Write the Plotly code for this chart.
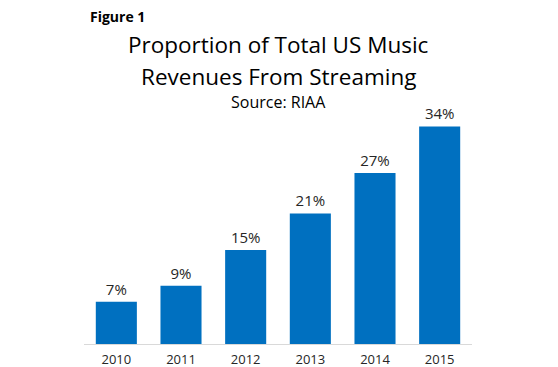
import plotly.graph_objects as go

years = ["2010", "2011", "2012", "2013", "2014", "2015"]
share = [6.6, 9.1, 14.7, 20.4, 26.7, 34.0]
labels = ["7%", "9%", "15%", "21%", "27%", "34%"]

FONT = "Open Sans"
W, H = 558, 367
top, bottom = 88, 23
plot_h = H - top - bottom

def py(p):
    return (H - bottom - p) / plot_h

fig = go.Figure(go.Bar(
    x=years, y=share, text=labels, textposition="outside",
    marker=dict(color="#0070C0", line=dict(width=0)),
    textfont=dict(family=FONT, size=15, color="#262626"),
    cliponaxis=False,
))

fig.update_layout(
    width=W, height=H,
    margin=dict(l=84, r=86, t=top, b=bottom, autoexpand=False),
    paper_bgcolor="white", plot_bgcolor="white",
    bargap=0.365,
    showlegend=False,
    xaxis=dict(showline=True, linecolor="#D9D9D9", linewidth=1, ticks="",
               range=[-0.5, 5.5], automargin=False, ticklabelstandoff=3,
               tickfont=dict(family=FONT, size=13, color="#262626"), showgrid=False),
    yaxis=dict(range=[0, 40], visible=False, showgrid=False, automargin=False),
    annotations=[
        dict(text="<b>Figure 1</b>", xref="paper", yref="paper", x=(88 - 84) / 388, y=py(16),
             xanchor="left", yanchor="middle", showarrow=False,
             font=dict(family=FONT, size=14, color="black")),
        dict(text="Proportion of Total US Music", xref="paper", yref="paper", x=0.5, y=py(44.5),
             xanchor="center", yanchor="middle", showarrow=False,
             font=dict(family=FONT, size=22.5, color="black")),
        dict(text="Revenues From Streaming", xref="paper", yref="paper", x=0.5, y=py(76.5),
             xanchor="center", yanchor="middle", showarrow=False,
             font=dict(family=FONT, size=22.5, color="black")),
        dict(text="Source: RIAA", xref="paper", yref="paper", x=0.5, y=py(102),
             xanchor="center", yanchor="middle", showarrow=False,
             font=dict(family=FONT, size=16, color="black")),
    ],
)

fig.write_html("out.html", config={"displayModeBar": False},
               post_script="document.body.style.margin='0';")
